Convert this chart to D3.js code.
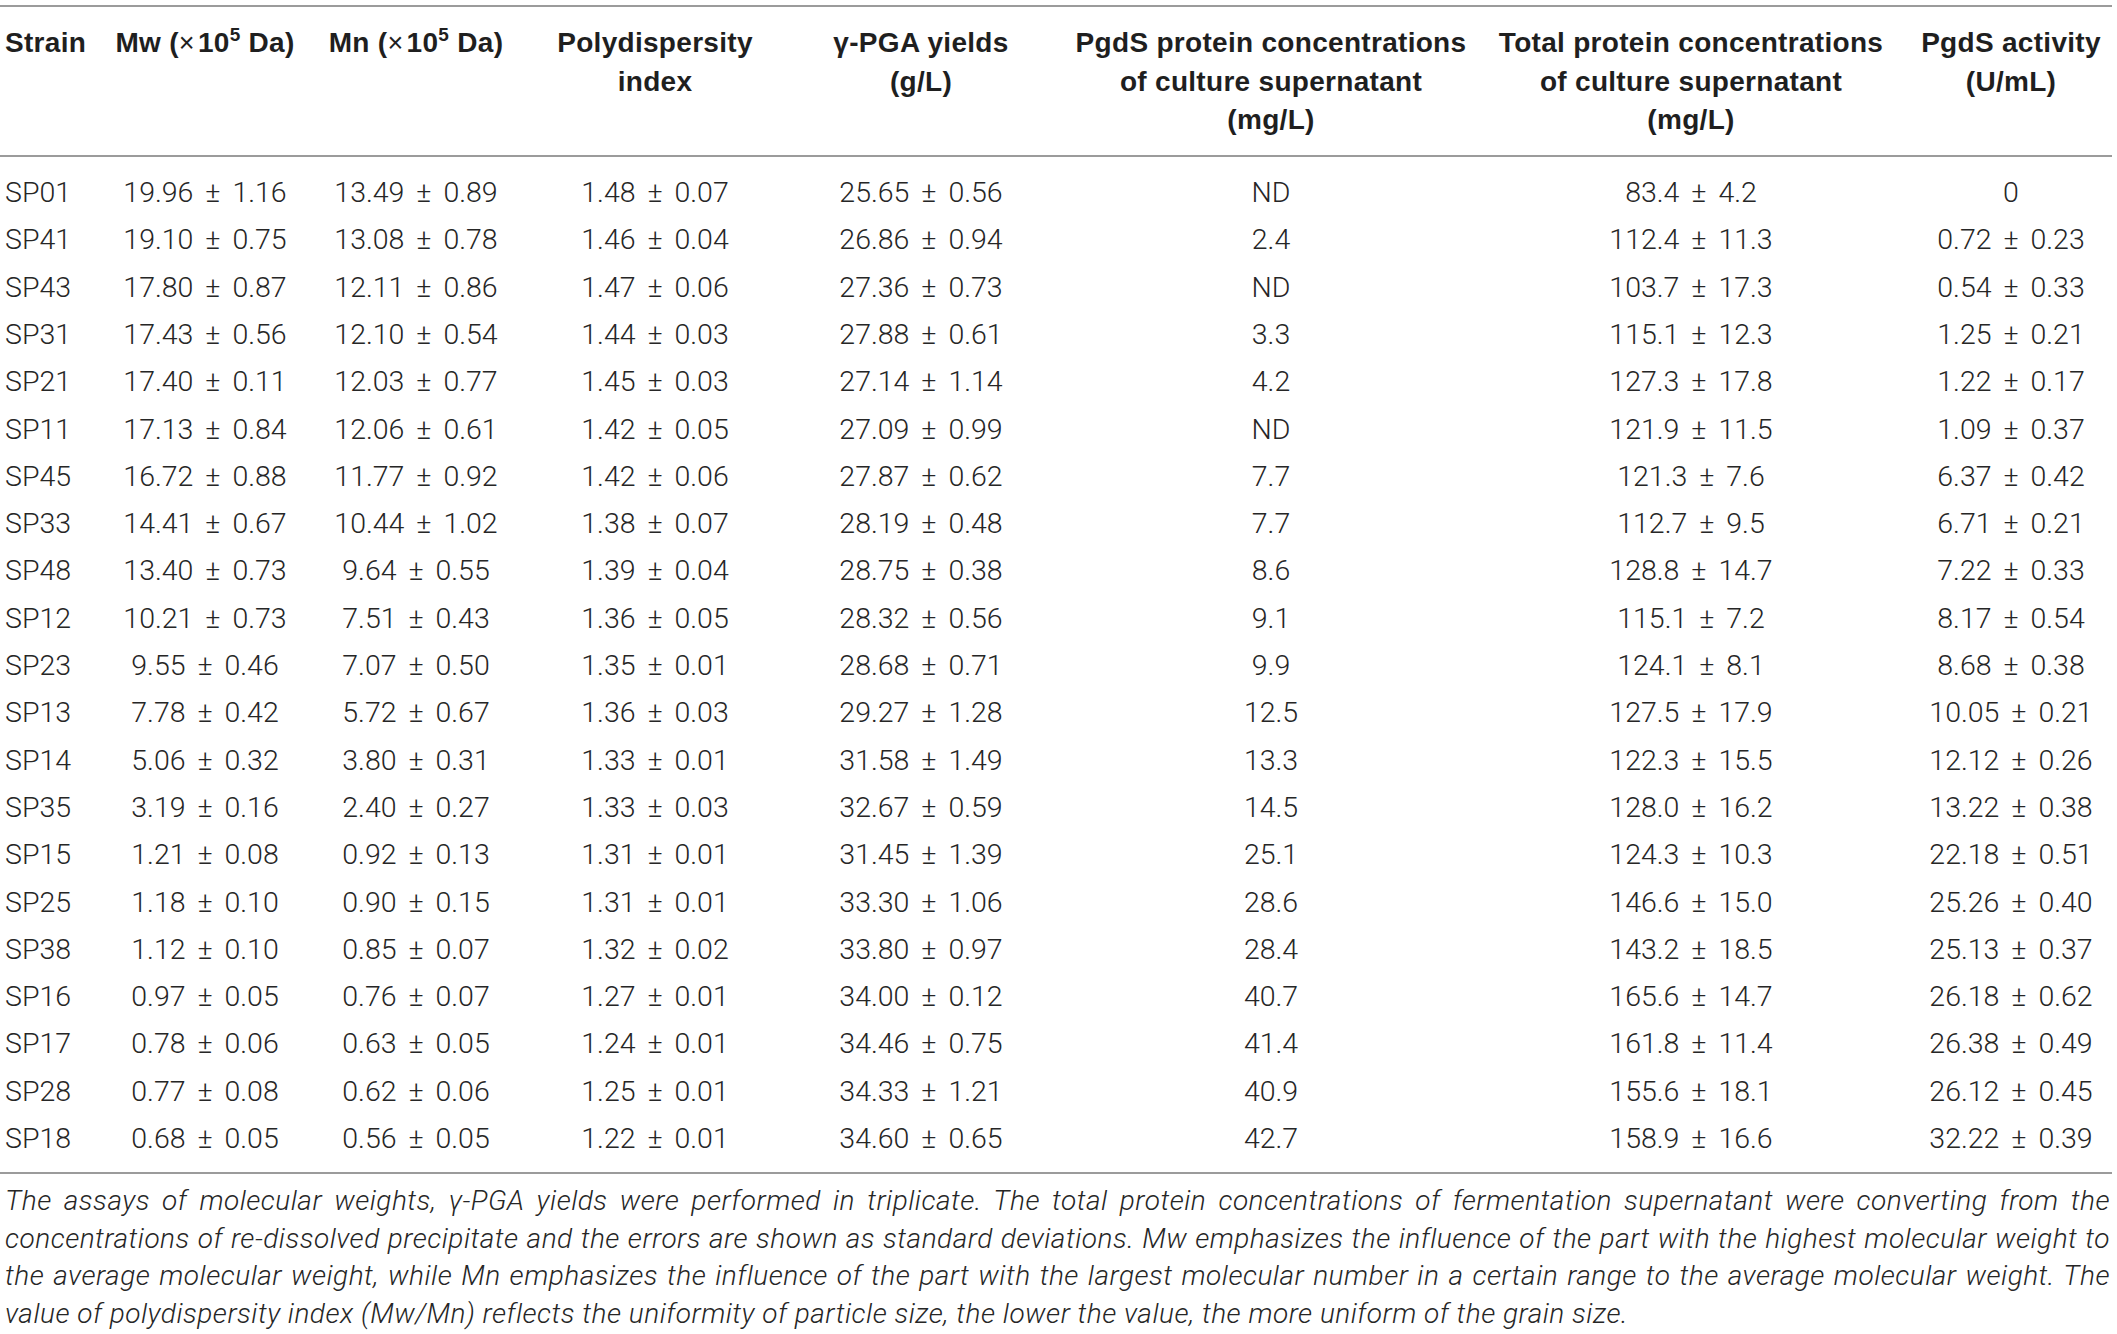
<!DOCTYPE html>
<html lang="en">
<head>
<meta charset="utf-8">
<title>PgdS strains table</title>
<script src="https://cdnjs.cloudflare.com/ajax/libs/d3/7.8.5/d3.min.js"></script>
<style>
  body { margin: 0; background: #fff; }
  .head { font-family: "Liberation Sans", Arial, sans-serif; font-weight: bold; font-size: 28px; fill: #1f1f1f; letter-spacing: 0.3px; }
  .cell { font-family: Roboto, "Liberation Sans", sans-serif; font-weight: 300; font-size: 28.5px; fill: #262626; word-spacing: 5px; }
  .note { font-family: Roboto, "Liberation Sans", sans-serif; font-weight: 300; font-style: italic; font-size: 28px; fill: #262626; letter-spacing: 0.5px; }
</style>
</head>
<body>
<div id="table"></div>
<script>
// table data, one array per column
var strains = ["SP01","SP41","SP43","SP31","SP21","SP11","SP45","SP33","SP48","SP12","SP23",
               "SP13","SP14","SP35","SP15","SP25","SP38","SP16","SP17","SP28","SP18"];
var mwMean = [19.96,19.10,17.80,17.43,17.40,17.13,16.72,14.41,13.40,10.21,9.55,7.78,5.06,3.19,1.21,1.18,1.12,0.97,0.78,0.77,0.68];
var mwSd   = [1.16,0.75,0.87,0.56,0.11,0.84,0.88,0.67,0.73,0.73,0.46,0.42,0.32,0.16,0.08,0.10,0.10,0.05,0.06,0.08,0.05];
var mnMean = [13.49,13.08,12.11,12.10,12.03,12.06,11.77,10.44,9.64,7.51,7.07,5.72,3.80,2.40,0.92,0.90,0.85,0.76,0.63,0.62,0.56];
var mnSd   = [0.89,0.78,0.86,0.54,0.77,0.61,0.92,1.02,0.55,0.43,0.50,0.67,0.31,0.27,0.13,0.15,0.07,0.07,0.05,0.06,0.05];
var pdiMean = [1.48,1.46,1.47,1.44,1.45,1.42,1.42,1.38,1.39,1.36,1.35,1.36,1.33,1.33,1.31,1.31,1.32,1.27,1.24,1.25,1.22];
var pdiSd   = [0.07,0.04,0.06,0.03,0.03,0.05,0.06,0.07,0.04,0.05,0.01,0.03,0.01,0.03,0.01,0.01,0.02,0.01,0.01,0.01,0.01];
var yieldMean = [25.65,26.86,27.36,27.88,27.14,27.09,27.87,28.19,28.75,28.32,28.68,29.27,31.58,32.67,31.45,33.30,33.80,34.00,34.46,34.33,34.60];
var yieldSd   = [0.56,0.94,0.73,0.61,1.14,0.99,0.62,0.48,0.38,0.56,0.71,1.28,1.49,0.59,1.39,1.06,0.97,0.12,0.75,1.21,0.65];
var pgdsConc = [null,2.4,null,3.3,4.2,null,7.7,7.7,8.6,9.1,9.9,12.5,13.3,14.5,25.1,28.6,28.4,40.7,41.4,40.9,42.7]; // null = ND
var totalMean = [83.4,112.4,103.7,115.1,127.3,121.9,121.3,112.7,128.8,115.1,124.1,127.5,122.3,128.0,124.3,146.6,143.2,165.6,161.8,155.6,158.9];
var totalSd   = [4.2,11.3,17.3,12.3,17.8,11.5,7.6,9.5,14.7,7.2,8.1,17.9,15.5,16.2,10.3,15.0,18.5,14.7,11.4,18.1,16.6];
var actMean = [0,0.72,0.54,1.25,1.22,1.09,6.37,6.71,7.22,8.17,8.68,10.05,12.12,13.22,22.18,25.26,25.13,26.18,26.38,26.12,32.22];
var actSd   = [null,0.23,0.33,0.21,0.17,0.37,0.42,0.21,0.33,0.54,0.38,0.21,0.26,0.38,0.51,0.40,0.37,0.62,0.49,0.45,0.39];

var columns = ["strain","mw","mn","pdi","yield","pgds","total","act"];
var headerLines = [
  ["Strain"],
  ["Mw (×10^5 Da)"],
  ["Mn (×10^5 Da)"],
  ["Polydispersity","index"],
  ["γ-PGA yields","(g/L)"],
  ["PgdS protein concentrations","of culture supernatant","(mg/L)"],
  ["Total protein concentrations","of culture supernatant","(mg/L)"],
  ["PgdS activity","(U/mL)"]
];
var footnote = [
  "The assays of molecular weights, γ-PGA yields were performed in triplicate. The total protein concentrations of fermentation supernatant were converting from the",
  "concentrations of re-dissolved precipitate and the errors are shown as standard deviations. Mw emphasizes the influence of the part with the highest molecular weight to",
  "the average molecular weight, while Mn emphasizes the influence of the part with the largest molecular number in a certain range to the average molecular weight. The",
  "value of polydispersity index (Mw/Mn) reflects the uniformity of particle size, the lower the value, the more uniform of the grain size."
];

var f2 = d3.format(".2f"), f1 = d3.format(".1f");
function pm(m, s, f) { return s == null ? String(m) : f(m) + " ± " + f(s); }

function cellText(col, i) {
  if (col == "strain") return strains[i];
  if (col == "mw") return pm(mwMean[i], mwSd[i], f2);
  if (col == "mn") return pm(mnMean[i], mnSd[i], f2);
  if (col == "pdi") return pm(pdiMean[i], pdiSd[i], f2);
  if (col == "yield") return pm(yieldMean[i], yieldSd[i], f2);
  if (col == "pgds") return pgdsConc[i] == null ? "ND" : f1(pgdsConc[i]);
  if (col == "total") return pm(totalMean[i], totalSd[i], f1);
  return pm(actMean[i], actSd[i], f2);
}

var W = 2117, H = 1334;
var svg = d3.select("#table").append("svg")
  .attr("width", W)
  .attr("height", H);

// column centres (strain column is left aligned)
var x = d3.scaleOrdinal().domain(columns).range([5, 205, 416, 655, 921, 1271, 1691, 2011]);
// row baselines
var y = d3.scalePoint().domain(strains).range([202, 1148]);
function anchor(col) { return col == "strain" ? "start" : "middle"; }

// rules
svg.selectAll("line.rule")
  .data([6, 156, 1173])
  .enter().append("line")
  .attr("class", "rule")
  .attr("x1", 0).attr("x2", 2112)
  .attr("y1", d => d).attr("y2", d => d)
  .attr("stroke", "#9b9b9b")
  .attr("stroke-width", 2);

// header
columns.forEach(function(col, j) {
  headerLines[j].forEach(function(line, k) {
    var t = svg.append("text")
      .attr("class", "head")
      .attr("x", x(col))
      .attr("y", 52 + k * 38.5)
      .attr("text-anchor", anchor(col));
    var parts = line.split(/(×|\^5)/);
    parts.forEach(function(p, n) {
      if (p == "") return;
      if (p == "×") t.append("tspan").attr("font-weight", "normal").attr("font-size", "27px").text("×");
      else if (p == "^5") t.append("tspan").attr("font-size", "19px").attr("dy", -11).text("5");
      else if (p.indexOf(" Da)") == 0) t.append("tspan").attr("dy", 11).text(p);
      else if (parts[n - 1] == "×") t.append("tspan").attr("dx", 3).text(p);
      else t.append("tspan").text(p);
    });
  });
});

// body cells
columns.forEach(function(col) {
  svg.selectAll("text.c-" + col)
    .data(strains)
    .enter().append("text")
    .attr("class", "cell c-" + col)
    .attr("x", x(col))
    .attr("y", d => y(d))
    .attr("text-anchor", anchor(col))
    .text((d, i) => cellText(col, i));
});

// footnote, justified except the last line
var noteLeft = 5, noteRight = 2110;
footnote.forEach(function(line, k) {
  var t = svg.append("text")
    .attr("class", "note")
    .attr("x", noteLeft)
    .attr("y", 1210 + k * 37.7)
    .text(line);
  if (k < footnote.length - 1) {
    var gaps = line.split(" ").length - 1;
    var extra = (noteRight - noteLeft - t.node().getComputedTextLength()) / gaps;
    t.attr("word-spacing", extra);
  }
});
</script>
</body>
</html>
